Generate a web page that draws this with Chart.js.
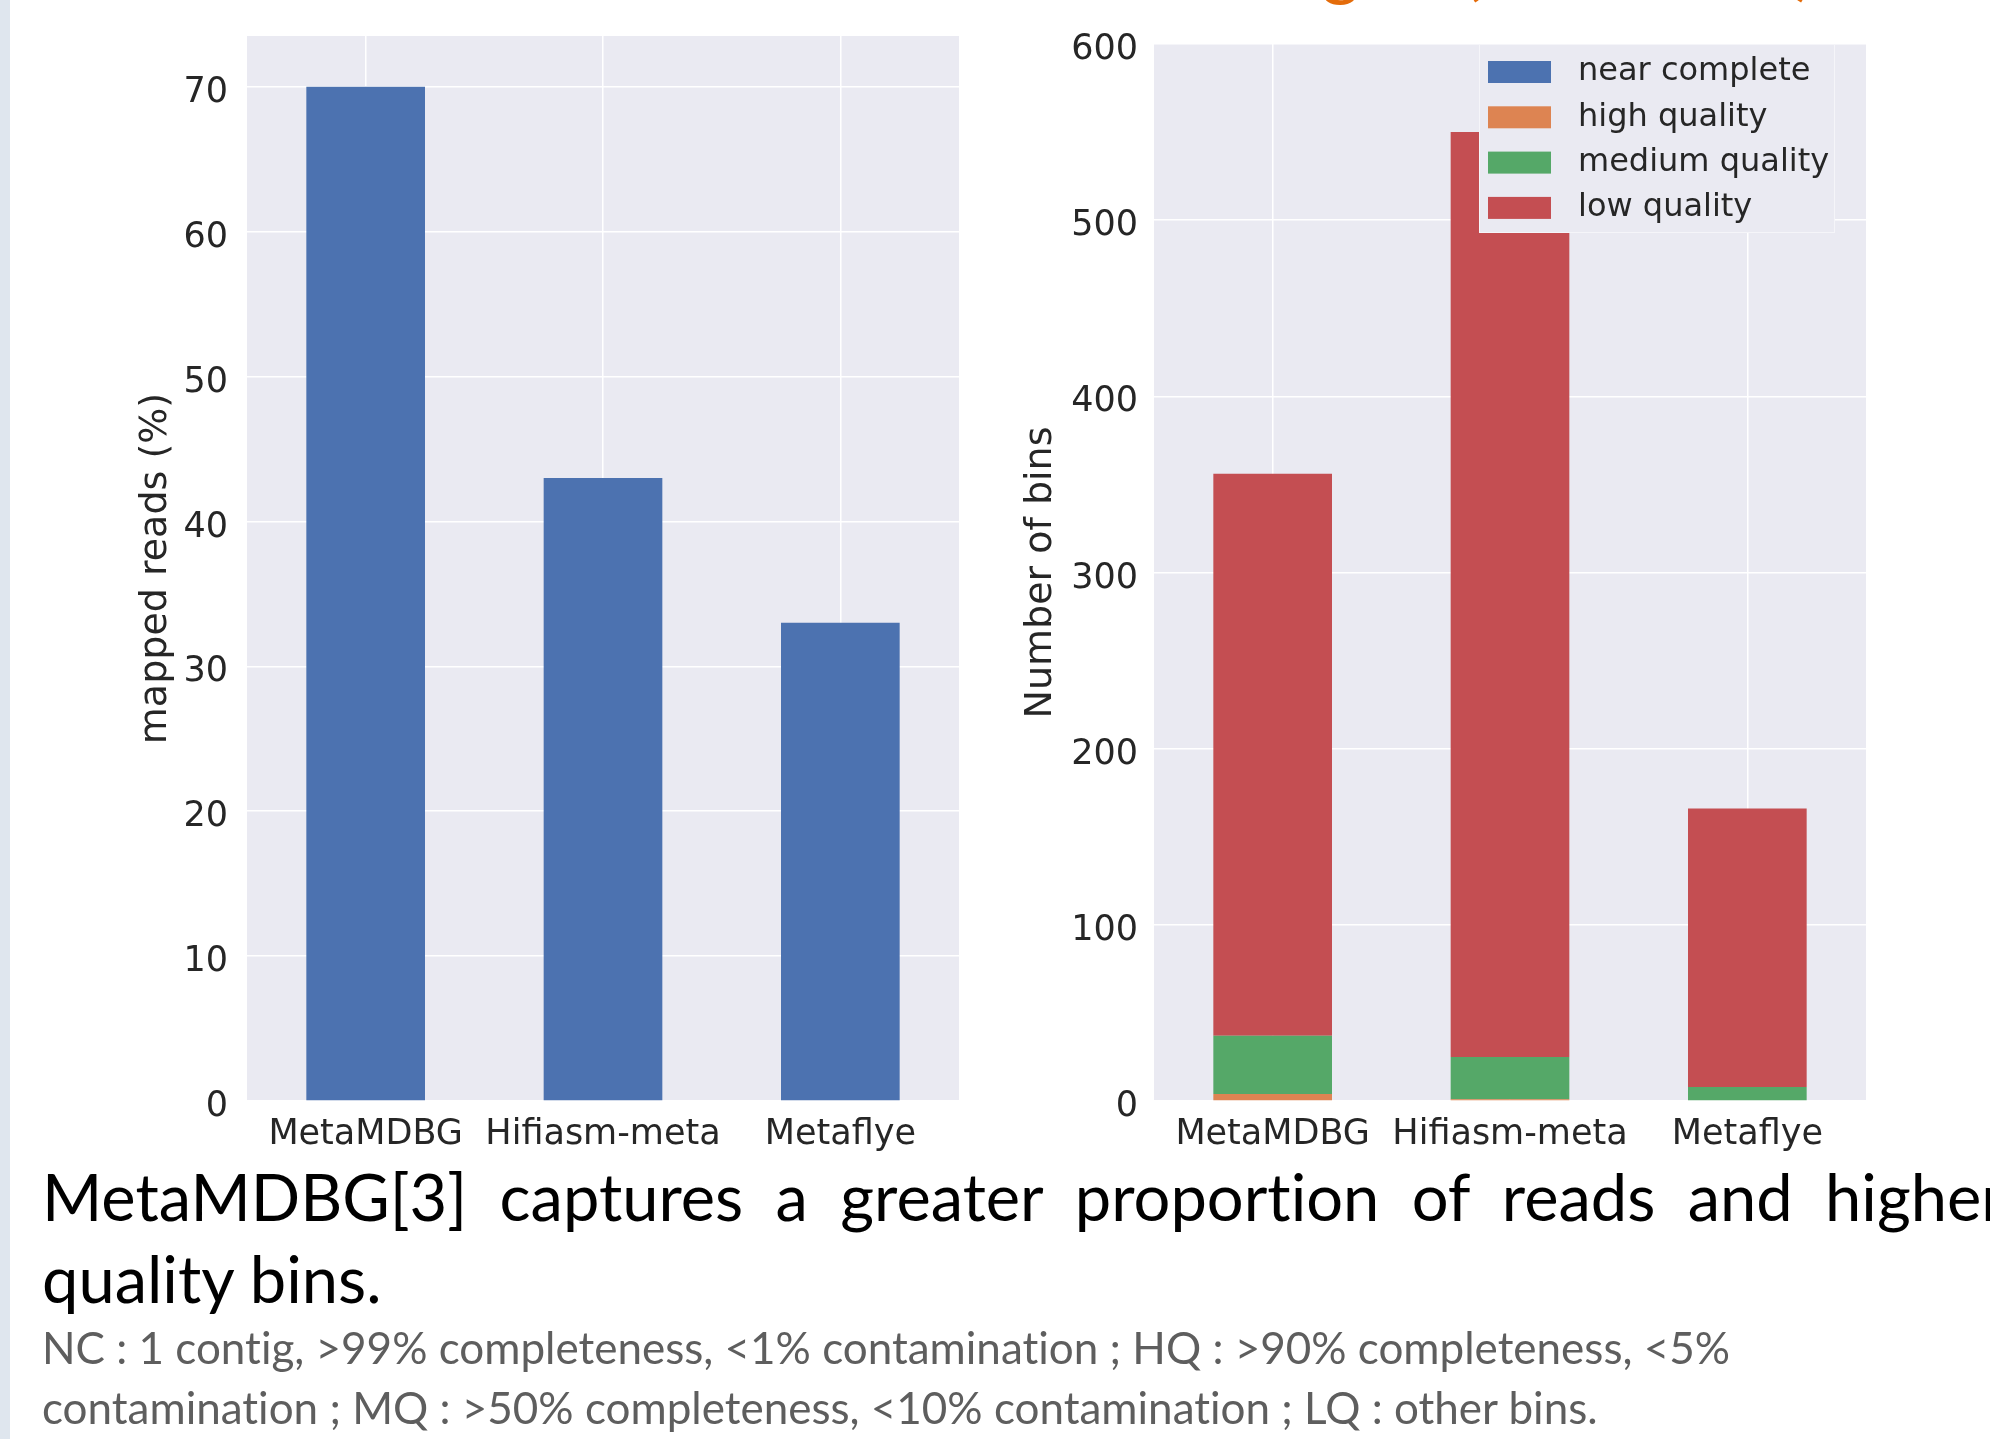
<!DOCTYPE html>
<html>
<head>
<meta charset="utf-8">
<script src="https://cdn.jsdelivr.net/npm/chart.js@4.4.1/dist/chart.umd.min.js"></script>
<style>
  html,body{margin:0;padding:0;background:#fff;width:1990px;height:1439px;overflow:hidden;position:relative}
  .strip{position:absolute;left:0;top:0;width:10px;height:1439px;background:#dfe6ee}
  canvas{position:absolute;top:0}
  .txt{position:absolute;font-family:Lato,sans-serif;white-space:nowrap;font-variant-ligatures:none}
  .main{font-size:65px;line-height:84px;color:#000}
  .note{font-size:44px;line-height:60px;color:#5e5e5e}
  .ttl{position:absolute;font-family:Lato,sans-serif;font-size:72px;line-height:72px;color:#e46c0a;top:-72px}
</style>
</head>
<body>
<div class="strip"></div>
<div class="ttl" style="left:1322px">g</div>
<div class="ttl" style="left:1462px">(</div>
<div class="ttl" style="left:1795px">)</div>
<canvas id="readsChart" width="900" height="1200" style="left:100px"></canvas>
<canvas id="binsChart" width="990" height="1200" style="left:1000px"></canvas>
<div class="txt main" style="left:42px;top:1154px;width:1963px;text-align:justify;text-align-last:justify;white-space:normal">MetaMDBG[3] captures a greater proportion of reads and higher</div>
<div class="txt main" style="left:42px;top:1236px">quality bins.</div>
<div class="txt note" style="left:42px;top:1317px">NC : 1 contig, &gt;99% completeness, &lt;1% contamination ; HQ : &gt;90% completeness, &lt;5%</div>
<div class="txt note" style="left:42px;top:1377px">contamination ; MQ : &gt;50% completeness, &lt;10% contamination ; LQ : other bins.</div>
<script>
const tools = ['MetaMDBG', 'Hifiasm-meta', 'Metaflye'];
const mappedReads = [70, 43, 33];
const binLabels = ['near complete', 'high quality', 'medium quality', 'low quality'];
const nearComplete = [0, 0, 0];
const highQuality = [4, 1, 0];
const mediumQuality = [33, 24, 8];
const lowQuality = [319, 525, 158];
const readsTicks = [0, 10, 20, 30, 40, 50, 60, 70];
const binsTicks = [0, 100, 200, 300, 400, 500, 600];
const binColors = ['#4c72b0', '#dd8452', '#55a868', '#c44e52'];

const tickFont = {family:'DejaVu Sans', size:35};
// small line height + empty first line nudges y labels a few px down (matplotlib centres them lower)
const yTickFont = {family:'DejaVu Sans', size:35, lineHeight:'12px'};
const titleFont = {family:'DejaVu Sans', size:38};
const ink = '#262626';

// grey plot background like seaborn darkgrid
const plotBg = {id:'plotBg', beforeDraw(chart){
  const {ctx, chartArea:a} = chart;
  ctx.save(); ctx.fillStyle='#eaeaf2'; ctx.fillRect(a.left, a.top, a.right-a.left, a.bottom-a.top); ctx.restore();
}};

// legend drawn inside the plot, top right
const legendBox = {id:'legendBox', afterDatasetsDraw(chart){
  const {ctx, chartArea:a} = chart;
  const bx = a.right-387, by = a.top, bw = 356, bh = 189;
  ctx.save();
  ctx.fillStyle='#eaeaf2'; ctx.fillRect(bx, by, bw, bh);
  ctx.strokeStyle='rgba(255,255,255,0.5)'; ctx.lineWidth=1; ctx.strokeRect(bx+0.5, by+0.5, bw-1, bh-1);
  ctx.font = '32px "DejaVu Sans"'; ctx.textBaseline='middle';
  chart.data.datasets.forEach((ds, i) => {
    const cy = by + 28 + i*45.3;
    ctx.fillStyle = ds.backgroundColor; ctx.fillRect(bx+9, cy-11, 63, 22);
    ctx.fillStyle = ink; ctx.fillText(ds.label, bx+99, cy);
  });
  ctx.restore();
}};

function keepTicks(list){
  return function(scale){ scale.ticks = list.map(v => ({value:v})); };
}

function xScale(stacked){
  return {
    stacked: stacked,
    grid:{color:'#ffffff', lineWidth:1.5, drawTicks:false, offset:false},
    border:{display:false},
    ticks:{font:tickFont, color:ink, padding:13, maxRotation:0, autoSkip:false},
    afterFit(s){ s.height = 99; }
  };
}

function yScale(max, ticks, axisWidth, tickPad, title, titlePad, stacked){
  return {
    stacked: stacked, min:0, max:max,
    afterBuildTicks: keepTicks(ticks),
    grid:{color:'#ffffff', lineWidth:1.5, drawTicks:false},
    border:{display:false},
    ticks:{font:yTickFont, color:ink, padding:tickPad, callback:v => ['', String(v)]},
    title:{display:true, text:title, font:titleFont, color:ink, padding:{top:titlePad, bottom:0}},
    afterFit(s){ s.width = axisWidth; }
  };
}

new Chart(document.getElementById('readsChart'), {
  type:'bar',
  data:{labels:tools, datasets:[{label:'mapped reads', data:mappedReads, backgroundColor:'#4c72b0', barPercentage:0.5, categoryPercentage:1}]},
  options:{
    responsive:false, animation:false, devicePixelRatio:1,
    layout:{padding:{left:0, right:41, top:36, bottom:0}},
    plugins:{legend:{display:false}, tooltip:{enabled:false}},
    scales:{x:xScale(false), y:yScale(73.5, readsTicks, 147, 19, 'mapped reads (%)', 33, false)}
  },
  plugins:[plotBg]
});

const binSeries = [nearComplete, highQuality, mediumQuality, lowQuality];
new Chart(document.getElementById('binsChart'), {
  type:'bar',
  data:{labels:tools, datasets:binSeries.map((vals, i) => ({
    label:binLabels[i], data:vals, backgroundColor:binColors[i], barPercentage:0.5, categoryPercentage:1
  }))},
  options:{
    responsive:false, animation:false, devicePixelRatio:1,
    layout:{padding:{left:0, right:124, top:44, bottom:0}},
    plugins:{legend:{display:false}, tooltip:{enabled:false}},
    scales:{x:xScale(true), y:yScale(600, binsTicks, 154, 16, 'Number of bins', 18, true)}
  },
  plugins:[plotBg, legendBox]
});
</script>
</body>
</html>
